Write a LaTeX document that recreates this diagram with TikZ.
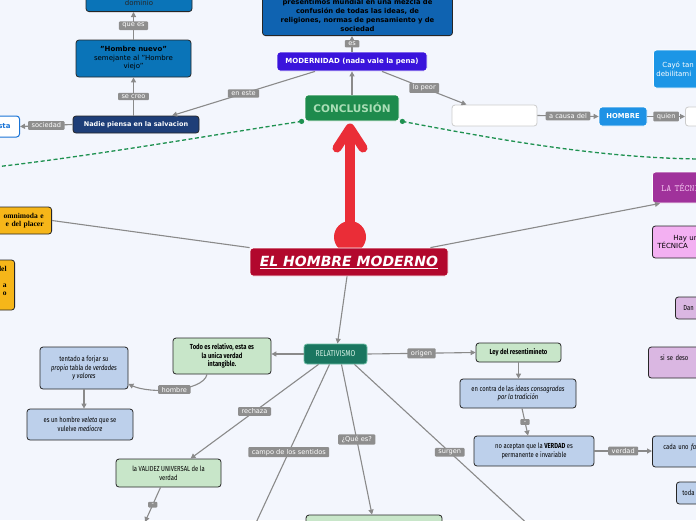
\documentclass[tikz,border=0pt]{standalone}
\usepackage{fontspec}
\setmainfont{DejaVu Sans}
\newfontfamily\condfont[FakeStretch=0.8]{Fira Sans}
\newfontfamily\placerfont{Liberation Serif}
\usetikzlibrary{arrows.meta}
\definecolor{bgcol}{RGB}{243,246,253}
\definecolor{topblue}{RGB}{15,99,177}
\definecolor{hnblue}{RGB}{10,116,184}
\definecolor{navy}{RGB}{30,62,120}
\definecolor{modpurple}{RGB}{58,20,220}
\definecolor{conclgreen}{RGB}{30,139,77}
\definecolor{concltext}{RGB}{170,222,182}
\definecolor{hombreblue}{RGB}{30,146,229}
\definecolor{cayoblue}{RGB}{28,150,230}
\definecolor{techpurple}{RGB}{160,50,155}
\definecolor{techtext}{RGB}{245,200,240}
\definecolor{pinkbox}{RGB}{243,176,242}
\definecolor{lilac}{RGB}{218,183,226}
\definecolor{hmred}{RGB}{178,8,45}
\definecolor{arrowred}{RGB}{234,45,55}
\definecolor{orangebox}{RGB}{246,182,25}
\definecolor{relteal}{RGB}{26,118,96}
\definecolor{relborder}{RGB}{110,190,165}
\definecolor{relwhite}{RGB}{215,242,230}
\definecolor{relgreen}{RGB}{200,230,201}
\definecolor{relblue}{RGB}{189,208,235}
\definecolor{edgegray}{RGB}{138,138,138}
\definecolor{lblgray}{RGB}{142,142,142}
\definecolor{dashgreen}{RGB}{30,145,80}
\definecolor{establue}{RGB}{26,116,214}

\begin{document}
\begin{tikzpicture}[x=1pt, y=-1pt,
    every node/.style={font=\fontsize{7}{8.5}\selectfont},
    box/.style={draw=black!85, line width=0.8pt, rounded corners=3pt, align=center, inner sep=3pt},
    rel/.style={box, font=\condfont\fontsize{7.3}{8.8}\selectfont},
    lbl/.style={fill=lblgray, text=white, rounded corners=1pt, inner xsep=3.5pt, inner ysep=1.8pt, font=\fontsize{6.6}{7.5}\selectfont},
    conn/.style={draw=edgegray, line width=1.1pt, -{Triangle[length=5pt,width=5pt]}},
    link/.style={draw=edgegray, line width=1.1pt},
    dashlink/.style={draw=dashgreen, line width=1.3pt, dash pattern=on 4pt off 2.5pt}]
    \fill[bgcol] (0,0) rectangle (696,520);
    \useasboundingbox (0,0) rectangle (696,520);
    \clip (0,0) rectangle (696,520);

    % upper part
    \node[box, fill=topblue, text width=184pt, anchor=south, inner ysep=4.5pt, font=\bfseries\fontsize{6.8}{9}\selectfont] (topbox) at (357.5,36) {presentimos mundial en una mezcla de\\confusión de todas las ideas, de\\religiones, normas de pensamiento y de\\sociedad};
    \node[box, fill=hnblue, text width=100pt, anchor=south, inner ysep=6pt, text=black!85, font=\fontsize{7}{9}\selectfont] (dominio) at (139,12) {\mbox{}\\\mbox{}\\dominio};
    \node[box, fill=hnblue, minimum width=115pt, minimum height=37pt, text=black] (hnuevo) at (133.5,58.5) {\textbf{"Hombre nuevo"}\\semejante al "Hombre\\viejo"};
    \node[box, fill=navy, text=white, minimum width=126pt, minimum height=17pt, font=\bfseries\fontsize{6.5}{8}\selectfont] (nadie) at (136,124.5) {Nadie piensa en la salvacion};
    \node[box, draw=establue, line width=1pt, fill=white, text=establue, text width=30pt, align=right, inner xsep=9pt, minimum height=21pt, anchor=east, font=\bfseries\fontsize{7}{8}\selectfont] (esta) at (20,126.5) {sta};
    \node[box, draw=white, fill=modpurple, text=white, minimum width=150pt, minimum height=19pt, font=\bfseries\fontsize{7}{8}\selectfont] (modern) at (352,61.5) {MODERNIDAD (nada vale la pena)};
    \node[box, draw=white, fill=conclgreen, text=concltext, minimum width=94pt, minimum height=26pt, font=\bfseries\fontsize{10.5}{12}\selectfont] (concl) at (352,108) {CONCLUSIÓN};
    \node[box, draw=black!20, fill=white, minimum width=85pt, minimum height=21pt] (vacio) at (494.5,115.5) {};
    \node[box, draw=white, fill=hombreblue, text=white, minimum width=48pt, minimum height=19pt, font=\bfseries\fontsize{6.8}{8}\selectfont] (hombre) at (623,116.5) {HOMBRE};
    \node[box, draw=black!20, fill=white, minimum width=40pt, minimum height=19pt, anchor=west] (vacio2) at (685,116.5) {};
    \node[box, draw=white, fill=cayoblue, text=white, anchor=west, text width=80pt, align=left, inner xsep=3pt, minimum height=38pt] (cayo) at (653,69) {\hspace*{6pt}Cayó tan\\debilitami};

    % dashed links and red arrow
    \draw[dashlink] ([xshift=-3pt]concl.south west) .. controls (230,132) and (100,155) .. (-5,167);
    \draw[dashlink] ([xshift=3pt]concl.south east) .. controls (500,140) and (600,158) .. (700,159);
    \fill[dashgreen] ([xshift=-3pt]concl.south west) circle (2.6);
    \fill[dashgreen] ([xshift=3pt]concl.south east) circle (2.6);
    \fill[arrowred] (350,237) circle (16);
    \draw[arrowred, line width=10pt, line cap=round] (350,236) -- (350,130);
    \draw[arrowred, line width=9pt, line cap=round, line join=round] (337,148) -- (350,128) -- (363,148);

    % centre and sides
    \node[box, draw=white, fill=hmred, text=white, minimum width=198pt, minimum height=28pt, font=\bfseries\itshape\fontsize{14}{16}\selectfont] (hmoderno) at (349,262) {\underline{EL HOMBRE MODERNO}};
    \node[box, fill=orangebox, anchor=east, text width=80pt, align=right, inner xsep=8pt, minimum height=27pt, font=\placerfont\bfseries\fontsize{7.5}{8.5}\selectfont] (omni) at (52,220.5) {omnimoda e\\e del placer};
    \node[box, fill=orangebox, anchor=east, text width=60pt, align=right, inner xsep=8pt, minimum height=50pt, font=\placerfont\bfseries\fontsize{7.5}{8}\selectfont] (omnib) at (15,285) {del\\\mbox{}\\a\\o\\\mbox{}};
    \node[box, draw=white, fill=techpurple, text=techtext, anchor=west, text width=70pt, align=left, inner xsep=9pt, minimum height=31pt, font=\ttfamily\fontsize{9.5}{11}\selectfont] (tecnica) at (652,187.5) {LA TÉCNICA};
    \node[box, fill=pinkbox, anchor=west, text width=70pt, align=left, inner xsep=5pt, minimum height=32pt] (hayun) at (652,242) {\hspace*{16pt}Hay un\\TÉCNICA};
    \node[rel, fill=lilac, anchor=west, text width=40pt, align=left, inner xsep=8pt, minimum height=22pt] (dan) at (675,308) {Dan};
    \node[rel, fill=lilac, anchor=west, text width=60pt, align=left, inner xsep=12pt, minimum height=31pt] (sisedeso) at (648,362.5) {si se deso\\\mbox{}};
    \node[rel, fill=relblue, anchor=west, text width=60pt, align=left, inner xsep=11pt, minimum height=31pt] (cadauno) at (652,451.5) {cada uno \textit{fa}\\\mbox{}};
    \node[rel, fill=relblue, anchor=west, text width=40pt, align=left, inner xsep=6pt, minimum height=22pt] (toda) at (676,493) {toda};

    % relativismo branch
    \node[box, draw=relborder, fill=relteal, text=relwhite, minimum width=63pt, minimum height=20pt, font=\condfont\fontsize{8.5}{10}\selectfont] (relat) at (335.5,354) {RELATIVISMO};
    \node[rel, fill=relgreen, minimum width=98pt, minimum height=36pt, font=\condfont\bfseries\fontsize{7.3}{8.8}\selectfont] (todo) at (222,356) {Todo es relativo, esta es\\la unica verdad\\intangible.};
    \node[rel, fill=relblue, minimum width=88pt, minimum height=42pt] (tentado) at (84,368) {tentado a forjar \textit{su}\\\textit{propia} tabla de \textit{verdades}\\\textit{y valores}};
    \node[rel, fill=relblue, minimum width=106pt, minimum height=31pt] (veleta) at (80,424.5) {es un hombre \textit{veleta} que se\\vulelve \textit{mediocre}};
    \node[rel, fill=relgreen, minimum width=105pt, minimum height=28pt] (validez) at (168.5,473) {la VALIDEZ UNIVERSAL de la\\verdad};
    \node[rel, fill=relgreen, minimum width=136pt, minimum height=26pt] (quees) at (374,528) {};
    \node[rel, fill=relgreen, minimum width=85pt, minimum height=19pt, font=\condfont\bfseries\fontsize{7.3}{8.8}\selectfont] (ley) at (518.5,352.5) {Ley del resentimineto};
    \node[rel, fill=relblue, minimum width=116pt, minimum height=29pt] (tradicion) at (518,393.5) {en contra de las \textit{ideas consagradas}\\\textit{por la tradición}};
    \node[rel, fill=relblue, minimum width=120pt, minimum height=30pt] (invariable) at (534,451) {no aceptan que la \textbf{VERDAD} es\\permanente e invariable};
    \coordinate (bajoval) at (145,522);
    \coordinate (sentidos) at (248,540);
    \coordinate (surgen) at (545,540);

    % connectors
    \draw[conn] (modern.north) -- node[lbl] {es} (modern.north |- topbox.south);
    \draw[conn] (concl.north) -- (modern.south);
    \draw[conn] ([xshift=-37pt]modern.south) -- node[lbl] {en este} ([xshift=36pt]nadie.north);
    \draw[conn] ([xshift=30pt]modern.south) -- node[lbl] {lo peor} ([xshift=-28pt]vacio.north);
    \draw[conn] (vacio.east) -- node[lbl] {a causa del} (hombre.west);
    \draw[conn] (hombre.east) -- node[lbl] {quien} (vacio2.west);
    \draw[conn] (hnuevo.south |- nadie.north) -- node[lbl] {se creo} (hnuevo.south);
    \draw[conn] (hnuevo.north) -- node[lbl] {que es} (hnuevo.north |- dominio.south);
    \draw[conn] (nadie.west) -- node[lbl] {sociedad} (esta.east);
    \draw[link] (hmoderno.north west) -- (omni.east);
    \draw[conn] ([xshift=-18pt]hmoderno.north east) -- ([xshift=8pt]tecnica.south west);
    \draw[conn] ([xshift=-2pt]hmoderno.south) -- ([xshift=2pt]relat.north);
    \draw[conn] (relat.west) -- (relat.west -| todo.east);
    \draw[conn] ([xshift=-15pt]todo.south) .. controls (203,392) and (150,394) .. node[lbl] {hombre} ([yshift=-16pt]tentado.east);
    \draw[conn] (tentado.south) -- (tentado.south |- veleta.north);
    \draw[conn] ([xshift=-17pt]relat.south) -- node[lbl] {rechaza} ([xshift=22pt]validez.north);
    \draw[conn] ([xshift=-8pt]validez.south) -- node[lbl] {-} (bajoval);
    \draw[link] ([xshift=-6pt]relat.south) -- node[lbl] {campo de los sentidos} (sentidos);
    \draw[conn] ([xshift=6pt]relat.south) -- node[lbl] {¿Qué es?} ([xshift=-2pt]quees.north);
    \draw[link] ([xshift=19pt]relat.south) -- node[lbl] {surgen} (surgen);
    \draw[conn] (relat.east) -- node[lbl] {origen} (ley.west);
    \draw[conn] (ley.south) -- (ley.south |- tradicion.north);
    \draw[conn] ([xshift=4pt]tradicion.south) -- node[lbl] {-} ([xshift=-6pt]invariable.north);
    \draw[conn] (invariable.east) -- node[lbl] {verdad} (invariable.east -| cadauno.west);
\end{tikzpicture}
\end{document}
